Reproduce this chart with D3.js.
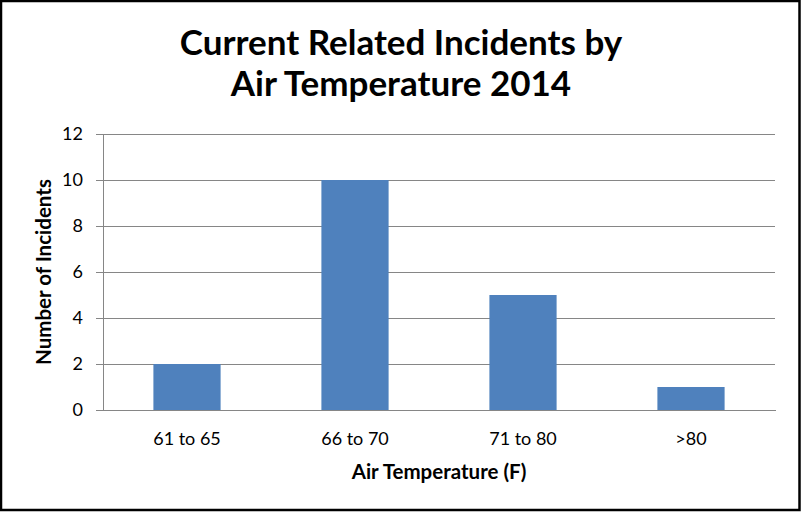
<!DOCTYPE html>
<html><head><meta charset="utf-8">
<script src="https://cdn.jsdelivr.net/npm/d3@7"></script>
<style>html,body{margin:0;padding:0;background:#fff;} svg{display:block;}</style>
</head><body>
<script>
const categories = ["61 to 65", "66 to 70", "71 to 80", ">80"];
const values = [2, 10, 5, 1];
const yTicks = [0, 2, 4, 6, 8, 10, 12];
const titleLines = ["Current Related Incidents by", "Air Temperature 2014"];
const xTitle = "Air Temperature (F)";
const yTitle = "Number of Incidents";

const W = 801, H = 512;
const font = "Lato, 'Open Sans', sans-serif";
const m = {left: 103, right: 26, top: 134, bottom: 102};
const svg = d3.select("body").append("svg").attr("width", W).attr("height", H);
svg.append("rect").attr("x", 1).attr("y", 1).attr("width", W - 2.5).attr("height", H - 3)
  .attr("fill", "#fff").attr("stroke", "#000").attr("stroke-width", 2.5);

const x = d3.scaleBand().domain(categories).range([m.left, W - m.right]).paddingInner(0.6).paddingOuter(0.3);
const y = d3.scaleLinear().domain([0, 12]).range([H - m.bottom, m.top]);

const yAxis = d3.axisLeft(y).tickValues(yTicks).tickSize(-(W - m.right - m.left)).tickPadding(12).tickSizeOuter(0);
const gy = svg.append("g").attr("transform", `translate(${m.left},0)`).call(yAxis);
gy.select(".domain").attr("stroke", "#868686").attr("shape-rendering", "crispEdges");
gy.selectAll(".tick line").attr("stroke", "#868686").attr("x1", -7).attr("shape-rendering", "crispEdges");
gy.selectAll(".tick text").attr("font-family", font).attr("font-size", 18).attr("fill", "#000").attr("x", -20);

svg.append("g").selectAll("rect").data(values).join("rect")
  .attr("x", (d, i) => x(categories[i])).attr("width", x.bandwidth())
  .attr("y", d => y(d)).attr("height", d => y(0) - y(d)).attr("fill", "#4F81BD");

const xAxis = d3.axisBottom(x).tickSize(0).tickPadding(22).tickSizeOuter(0);
const gx = svg.append("g").attr("transform", `translate(0,${y(0)})`).call(xAxis);
gx.select(".domain").attr("stroke", "#868686").attr("shape-rendering", "crispEdges");
gx.selectAll(".tick text").attr("font-family", font).attr("font-size", 18).attr("fill", "#000");

svg.append("g").selectAll("text").data(titleLines).join("text")
  .attr("x", 401).attr("y", (d, i) => 55 + i * 41).attr("text-anchor", "middle")
  .attr("font-family", font).attr("font-weight", "bold").attr("font-size", 35).attr("fill", "#000")
  .text(d => d);

svg.append("text").attr("x", (m.left + W - m.right) / 2).attr("y", 479).attr("text-anchor", "middle")
  .attr("font-family", font).attr("font-weight", "bold").attr("font-size", 20.5).text(xTitle);
svg.append("text").attr("transform", `translate(51,${y(6)}) rotate(-90)`).attr("text-anchor", "middle")
  .attr("font-family", font).attr("font-weight", "bold").attr("font-size", 20.5).text(yTitle);
</script>
</body></html>
